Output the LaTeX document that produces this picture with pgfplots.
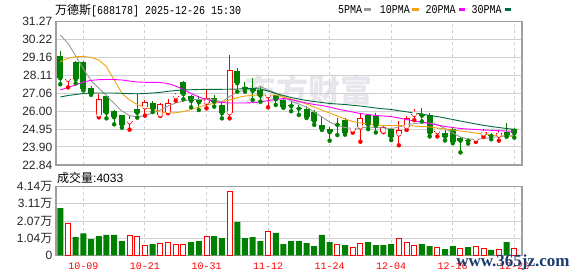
\documentclass[border=0pt]{standalone}
\usepackage{fontspec}
\setmainfont{Liberation Sans}
\newfontfamily\cjk{Noto Sans CJK SC}
\newfontfamily\mono{Liberation Mono}
\newfontfamily\serifb{Liberation Serif}
\usepackage{graphicx}
\usepackage{pgfplots}
\usepackage{pgfplotstable}
\pgfplotsset{compat=1.18}
\definecolor{cgreen}{HTML}{008000}
\definecolor{cred}{HTML}{FF0000}
\definecolor{ma5}{HTML}{999999}
\definecolor{ma10}{HTML}{F0A30A}
\definecolor{ma20}{HTML}{FF00FF}
\definecolor{ma30}{HTML}{006B3A}
\definecolor{gridc}{HTML}{D0D0D0}
\definecolor{framec}{HTML}{A0A0A0}
\definecolor{wm}{HTML}{E6E6EC}
\definecolor{navy}{HTML}{1B3B6F}

\pgfplotstableread{
i o h l c
0 29.24 29.55 27.58 27.93
2 28.91 28.97 27.64 27.87
3 28.89 28.95 27.22 27.31
4 27.38 27.48 26.96 27.03
6 26.89 26.93 25.58 25.91
7 26.03 26.07 25.23 25.64
8 25.78 25.80 25.03 25.19
10 26.13 27.00 25.62 25.91
12 26.48 26.62 25.95 26.15
16 27.70 27.79 26.70 27.01
17 26.89 26.95 26.23 26.60
18 26.72 26.89 26.07 26.52
20 26.79 26.95 26.27 26.56
21 26.36 26.62 25.58 25.88
23 28.36 28.52 27.15 27.64
24 27.44 27.73 27.15 27.33
25 27.35 27.93 26.66 27.20
26 27.25 27.48 26.56 26.92
28 26.95 26.97 26.37 26.70
29 26.66 26.70 26.20 26.26
30 26.36 26.60 26.00 26.30
31 26.21 26.36 25.78 26.15
32 26.15 26.30 25.60 25.68
33 25.98 26.05 25.20 25.42
34 25.19 25.72 24.90 24.97
35 24.94 25.09 24.27 24.76
36 25.26 25.60 24.60 25.20
37 25.48 25.60 24.62 24.70
40 25.78 25.82 24.95 25.20
41 25.72 25.88 24.75 25.15
43 24.95 25.00 24.30 24.50
47 25.82 26.17 25.40 25.74
48 25.78 25.88 24.52 24.72
50 24.70 24.90 24.28 24.50
51 24.95 25.00 24.12 24.22
52 24.44 24.46 23.58 24.27
53 24.30 24.44 24.10 24.24
56 24.59 24.72 24.35 24.53
58 24.77 25.29 24.50 24.62
59 24.95 25.00 24.45 24.70
}\gcand

\pgfplotstableread{
i o h l c
1 27.85 27.97 27.40 27.91
5 25.76 27.00 25.64 26.70
9 25.35 25.72 24.92 25.41
11 26.23 26.64 25.74 26.52
13 25.76 26.46 25.72 26.42
14 25.95 26.72 25.88 26.47
15 26.82 27.05 26.62 26.88
19 26.50 27.25 26.17 26.79
22 25.88 29.30 25.58 28.42
27 26.88 27.09 26.23 26.94
38 24.87 24.99 24.74 24.93
39 25.05 25.87 24.21 25.58
42 24.80 25.20 24.77 25.09
44 24.64 25.45 24.00 24.90
45 25.06 25.72 24.90 25.58
46 25.79 26.12 25.48 25.85
49 24.77 24.99 24.52 24.83
54 24.32 24.50 24.20 24.38
55 24.64 24.94 24.50 24.80
57 24.56 24.90 24.27 24.74
}\rcand

\pgfplotstableread{
i v
0 2.84
2 1.09
3 1.33
4 0.98
5 1.16
6 1.23
7 1.23
8 0.86
12 0.68
17 0.80
18 0.86
20 1.16
21 1.04
23 2.01
24 1.04
25 1.10
26 0.86
28 1.35
29 0.68
30 0.86
31 0.86
32 0.74
33 0.56
34 1.23
35 0.80
37 0.62
40 0.80
41 0.62
42 0.62
43 0.68
47 0.68
48 0.56
50 0.38
51 0.56
53 0.50
56 0.32
58 0.80
}\gvol

\pgfplotstableread{
i v
1 1.93
9 1.21
10 1.16
11 0.62
13 0.72
14 0.78
15 0.66
16 0.66
19 1.16
22 3.88
27 1.45
36 0.68
38 0.50
39 0.74
44 1.03
45 0.80
46 0.62
49 0.50
52 0.44
54 0.56
55 0.44
57 0.32
59 0.40
}\rvol

\begin{document}
\begin{tikzpicture}[x=1pt,y=1pt]
\useasboundingbox (0,0) rectangle (578,-276);
% watermark
\node[anchor=west, inner sep=0pt, text=wm, font=\cjk\bfseries\fontsize{32}{32}\selectfont] at (244,-90) {东方财富};

% title
\node[anchor=base west, inner sep=0pt] at (55,-14) {{\cjk\fontsize{12}{12}\selectfont 万德斯}{\mono\fontsize{10}{10}\selectfont\scalebox{1}[1.2]{[688178] 2025-12-26 15:30}}};
% legend
\node[anchor=base west, inner sep=0pt, font=\mono\fontsize{10}{10}\selectfont] at (338,-13) {\scalebox{1}[1.2]{5PMA}};
\fill[ma5] (364,-8.3) rectangle (371,-10.6);
\node[anchor=base west, inner sep=0pt, font=\mono\fontsize{10}{10}\selectfont] at (379.7,-13) {\scalebox{1}[1.2]{10PMA}};
\fill[ma10] (412,-8.3) rectangle (418.7,-10.6);
\node[anchor=base west, inner sep=0pt, font=\mono\fontsize{10}{10}\selectfont] at (425.3,-13) {\scalebox{1}[1.2]{20PMA}};
\fill[ma20] (458.7,-8.3) rectangle (464.7,-10.6);
\node[anchor=base west, inner sep=0pt, font=\mono\fontsize{10}{10}\selectfont] at (471.3,-13) {\scalebox{1}[1.2]{30PMA}};
\fill[ma30] (504.7,-8.3) rectangle (510.7,-10.6);

\begin{axis}[
  at={(56pt,-21.5pt)}, anchor=north west, scale only axis,
  width=466pt, height=143.5pt,
  xmin=-0.56, xmax=60, ymin=22.84, ymax=31.27,
  xtick={3,11,19,27,35,43,51,59}, xticklabels={},
  ytick={22.84,23.90,24.95,26.00,27.06,28.11,29.16,30.22,31.27},
  yticklabels={22.84,23.90,24.95,26.00,27.06,28.11,29.16,30.22,31.27},
  xmajorgrids, ymajorgrids,
  x grid style={gridc, line width=1pt, dash pattern=on 3pt off 3pt},
  y grid style={gridc, line width=1pt},
  axis line style={framec, line width=1.5pt},
  major tick length=0pt,
  yticklabel style={font=\fontsize{12}{12}\selectfont, text=black!85, inner sep=0pt, anchor=east, xshift=-3.5pt},
]
% green candles
\addplot[cgreen, only marks, mark=none, forget plot, error bars/.cd, y dir=plus, y explicit, error mark=none, error bar style={line width=1pt, cgreen}]
  table[x=i, y=l, y error plus expr={\thisrow{h}-\thisrow{l}}]{\gcand};
\addplot[cgreen, only marks, mark=none, forget plot, error bars/.cd, y dir=plus, y explicit, error mark=none, error bar style={line width=6pt, cgreen}]
  table[x=i, y=c, y error plus expr={\thisrow{o}-\thisrow{c}}]{\gcand};
% red candles
\addplot[cred, only marks, mark=none, forget plot, error bars/.cd, y dir=plus, y explicit, error mark=none, error bar style={line width=1pt, cred}]
  table[x=i, y=l, y error plus expr={\thisrow{h}-\thisrow{l}}]{\rcand};
\addplot[cred, only marks, mark=none, forget plot, error bars/.cd, y dir=plus, y explicit, error mark=none, error bar style={line width=6pt, cred}]
  table[x=i, y=o, y error plus expr={\thisrow{c}-\thisrow{o}}]{\rcand};
\addplot[white, only marks, mark=none, forget plot, error bars/.cd, y dir=plus, y explicit, error mark=none, error bar style={line width=4pt, white}]
  table[x=i, y expr={\thisrow{o}+0.0588}, y error plus expr={max(\thisrow{c}-\thisrow{o}-0.1175,0)}]{\rcand};
% moving averages
\addplot[ma5, line width=0.9pt, mark=none] coordinates {(0,30.477)(1,29.989)(2,29.243)(3,28.479)(4,27.804)(5,27.345)(6,26.922)(7,26.452)(8,26.012)(9,25.747)(10,25.659)(11,25.747)(12,25.894)(13,26.07)(14,26.306)(15,26.482)(16,26.599)(17,26.687)(18,26.687)(19,26.717)(20,26.687)(21,26.54)(22,26.864)(23,27.128)(24,27.245)(25,27.334)(26,27.451)(27,27.245)(28,27.069)(29,26.834)(30,26.599)(31,26.423)(32,26.247)(33,25.953)(34,25.659)(35,25.366)(36,25.16)(37,25.042)(38,24.984)(39,25.013)(40,25.072)(41,25.042)(42,25.013)(43,24.984)(44,25.072)(45,25.189)(46,25.277)(47,25.307)(48,25.307)(49,25.219)(50,24.984)(51,24.719)(52,24.484)(53,24.367)(54,24.349)(55,24.396)(56,24.455)(57,24.514)(58,24.543)(59,24.572)};
\addplot[ma10, line width=0.9pt, mark=none] coordinates {(0,28.908)(1,29.108)(2,29.202)(3,29.214)(4,29.167)(5,29.008)(6,28.614)(7,27.833)(8,27.052)(9,26.658)(10,26.394)(11,26.217)(12,26.1)(13,25.953)(14,25.894)(15,25.906)(16,25.982)(17,26.1)(18,26.247)(19,26.364)(20,26.464)(21,26.54)(22,26.658)(23,26.793)(24,26.893)(25,26.934)(26,26.952)(27,26.952)(28,26.952)(29,26.834)(30,26.717)(31,26.57)(32,26.423)(33,26.247)(34,26.07)(35,25.894)(36,25.718)(37,25.542)(38,25.395)(39,25.307)(40,25.248)(41,25.189)(42,25.16)(43,25.16)(44,25.16)(45,25.16)(46,25.13)(47,25.101)(48,25.072)(49,25.013)(50,24.954)(51,24.896)(52,24.837)(53,24.778)(54,24.719)(55,24.66)(56,24.602)(57,24.572)(58,24.543)(59,24.514)};
\addplot[ma20, line width=0.9pt, mark=none] coordinates {(0,27.245)(1,27.404)(2,27.539)(3,27.716)(4,27.815)(5,27.851)(6,27.862)(7,27.862)(8,27.833)(9,27.774)(10,27.716)(11,27.698)(12,27.698)(13,27.686)(14,27.627)(15,27.48)(16,27.275)(17,27.04)(18,26.834)(19,26.687)(20,26.57)(21,26.511)(22,26.482)(23,26.482)(24,26.482)(25,26.5)(26,26.54)(27,26.628)(28,26.687)(29,26.746)(30,26.687)(31,26.57)(32,26.482)(33,26.394)(34,26.335)(35,26.247)(36,26.129)(37,26.041)(38,25.953)(39,25.865)(40,25.806)(41,25.747)(42,25.718)(43,25.689)(44,25.6)(45,25.512)(46,25.424)(47,25.366)(48,25.277)(49,25.189)(50,25.101)(51,25.042)(52,24.984)(53,24.954)(54,24.925)(55,24.896)(56,24.878)(57,24.854)(58,24.837)(59,24.808)};
\addplot[ma30, line width=0.9pt, mark=none] coordinates {(0,26.834)(1,26.922)(2,26.981)(3,27.04)(4,27.069)(5,27.069)(6,27.069)(7,27.069)(8,27.052)(9,27.034)(10,27.022)(11,27.04)(12,27.069)(13,27.11)(14,27.169)(15,27.216)(16,27.245)(17,27.263)(18,27.275)(19,27.287)(20,27.287)(21,27.287)(22,27.293)(23,27.304)(24,27.316)(25,27.334)(26,27.304)(27,27.186)(28,27.04)(29,26.922)(30,26.805)(31,26.717)(32,26.629)(33,26.57)(34,26.511)(35,26.452)(36,26.423)(37,26.394)(38,26.347)(39,26.306)(40,26.247)(41,26.188)(42,26.141)(43,26.1)(44,26.03)(45,25.964)(46,25.894)(47,25.836)(48,25.747)(49,25.689)(50,25.6)(51,25.512)(52,25.424)(53,25.336)(54,25.248)(55,25.172)(56,25.101)(57,25.042)(58,24.984)(59,24.937)};
\end{axis}

\node[anchor=base west, inner sep=0pt] at (57,-182) {{\cjk\fontsize{12}{12}\selectfont 成交量}{\fontsize{12}{12}\selectfont :4033}};

\begin{axis}[
  at={(56pt,-186.7pt)}, anchor=north west, scale only axis,
  width=466pt, height=68.6pt,
  xmin=-0.56, xmax=60, ymin=0, ymax=4.14,
  xtick={3,11,19,27,35,43,51,59},
  xticklabels={10-09,10-21,10-31,11-12,11-24,12-04,12-16,12-26},
  ytick={0,1.035,2.07,3.105,4.14},
  yticklabels={0,{1.04{\cjk 万}},{2.07{\cjk 万}},{3.11{\cjk 万}},{4.14{\cjk 万}}},
  xmajorgrids, ymajorgrids,
  x grid style={gridc, line width=1pt, dash pattern=on 3pt off 3pt},
  y grid style={gridc, line width=1pt},
  axis line style={framec, line width=1.5pt},
  major tick length=0pt,
  yticklabel style={font=\fontsize{12}{12}\selectfont, text=black!85, inner sep=0pt, anchor=east, xshift=-3.5pt},
  xticklabel style={font=\mono\fontsize{10}{10}\selectfont, text=cred, inner sep=0pt, anchor=center, yshift=-10.7pt},
]
\addplot[ybar, bar width=6pt, bar shift=0pt, fill=cgreen, draw=none, forget plot] table[x=i, y=v]{\gvol};
\addplot[ybar, bar width=5pt, bar shift=0pt, fill=white, draw=cred, line width=1pt, forget plot] table[x=i, y=v]{\rvol};
\end{axis}

\node[anchor=center, inner sep=0pt, text=navy, font=\serifb\bfseries\fontsize{17}{17}\selectfont] at (513,-262) {www.365jz.com};
\end{tikzpicture}
\end{document}
